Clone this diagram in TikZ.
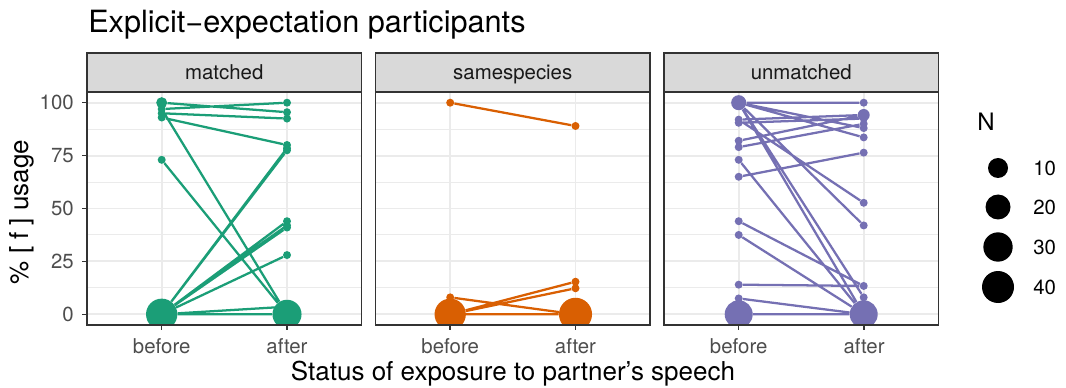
\documentclass[tikz,border=0pt]{standalone}
\usepackage{fontspec}
\setmainfont{TeX Gyre Heros}
\usepackage{tikz}
\definecolor{coulM}{HTML}{1B9E77}
\definecolor{coulS}{HTML}{D95F02}
\definecolor{coulU}{HTML}{7570B3}
\definecolor{grisG}{HTML}{EBEBEB}
\definecolor{grisB}{HTML}{333333}
\definecolor{grisS}{HTML}{D9D9D9}
\definecolor{grisT}{HTML}{4D4D4D}
\tikzset{
  obs/.style={circle, fill, inner sep=0pt, minimum size=#1},
  obs/.default=6pt,
  trait/.style={draw, line width=1.7pt},
  majeur/.style={draw=grisG, line width=1.4pt},
  mineur/.style={draw=grisG, line width=0.7pt},
  cadre/.style={draw=grisB, line width=1.1pt},
  etiq/.style={font=\fontsize{15.3}{18}\selectfont, text=grisT, inner sep=0pt},
  titreaxe/.style={font=\fontsize{19.5}{23}\selectfont, inner sep=0pt},
  declare function={vy(\v)=314.3-2.116*\v;},
}

\begin{document}
\begin{tikzpicture}[x=0.75pt, y=-0.75pt]
  \useasboundingbox (0,0) rectangle (1066,388);
  \foreach \L in {87,375.5,664} {
    \foreach \v in {12.5,37.5,62.5,87.5} \draw[mineur] (\L,{vy(\v)}) -- ++(274.5,0);
    \foreach \v in {0,25,50,75,100} \draw[majeur] (\L,{vy(\v)}) -- ++(274.5,0);
    \draw[majeur] (\L+74.7,92) -- ++(0,233) (\L+200,92) -- ++(0,233);
  }

  \begin{scope}[color=coulM]
    \clip (87,92) rectangle ++(274.5,233);
    \node[obs=8.3pt] (mb100) at (161.7,{vy(100)}) {};
    \node[obs] (mb97) at (161.7,{vy(97)}) {};
    \node[obs] (mb95) at (161.7,{vy(95)}) {};
    \node[obs] (mb93) at (161.7,{vy(93)}) {};
    \node[obs] (mb73) at (161.7,{vy(73)}) {};
    \node[obs=23.5pt] (mb0) at (161.7,{vy(0)}) {};
    \node[obs] (ma100) at (287,{vy(100)}) {};
    \node[obs] (ma96) at (287,{vy(95.5)}) {};
    \node[obs] (ma92) at (287,{vy(92.5)}) {};
    \node[obs] (ma80) at (287,{vy(80)}) {};
    \node[obs] (ma78) at (287,{vy(78.5)}) {};
    \node[obs] (ma77) at (287,{vy(77.5)}) {};
    \node[obs] (ma44) at (287,{vy(44)}) {};
    \node[obs] (ma42) at (287,{vy(42)}) {};
    \node[obs] (ma41) at (287,{vy(41)}) {};
    \node[obs] (ma28) at (287,{vy(28)}) {};
    \node[obs] (ma4) at (287,{vy(3.6)}) {};
    \node[obs=21.8pt] (ma0) at (287,{vy(0)}) {};
    \draw[trait] (mb100) -- (ma96) (mb97) -- (ma100) (mb97) -- (ma0)
      (mb95) -- (ma92) (mb93) -- (ma80) (mb73) -- (ma0)
      (mb0) -- (ma78) (mb0) -- (ma77) (mb0) -- (ma44) (mb0) -- (ma42)
      (mb0) -- (ma41) (mb0) -- (ma28) (mb0) -- (ma4) (mb0) -- (ma0);
  \end{scope}

  \begin{scope}[color=coulS]
    \clip (375.5,92) rectangle ++(274.5,233);
    \node[obs] (sb100) at (450.2,{vy(100)}) {};
    \node[obs] (sb8) at (450.2,{vy(8)}) {};
    \node[obs=23.5pt] (sb0) at (450.2,{vy(0)}) {};
    \node[obs] (sa89) at (575.5,{vy(89)}) {};
    \node[obs] (sa15) at (575.5,{vy(15.4)}) {};
    \node[obs] (sa12) at (575.5,{vy(12.3)}) {};
    \node[obs=24.8pt] (sa0) at (575.5,{vy(0)}) {};
    \draw[trait] (sb100) -- (sa89) (sb8) -- (sa0)
      (sb0) -- (sa15) (sb0) -- (sa12) (sb0) -- (sa0);
  \end{scope}

  \begin{scope}[color=coulU]
    \clip (664,92) rectangle ++(274.5,233);
    \node[obs=11.3pt] (ub100) at (738.7,{vy(100)}) {};
    \node[obs] (ub92) at (738.7,{vy(92)}) {};
    \node[obs] (ub90) at (738.7,{vy(90.5)}) {};
    \node[obs] (ub82) at (738.7,{vy(82)}) {};
    \node[obs] (ub79) at (738.7,{vy(79)}) {};
    \node[obs] (ub73) at (738.7,{vy(73)}) {};
    \node[obs] (ub65) at (738.7,{vy(65)}) {};
    \node[obs] (ub44) at (738.7,{vy(44)}) {};
    \node[obs] (ub37) at (738.7,{vy(37.5)}) {};
    \node[obs] (ub14) at (738.7,{vy(14)}) {};
    \node[obs] (ub8) at (738.7,{vy(7.5)}) {};
    \node[obs=21pt] (ub0) at (738.7,{vy(0)}) {};
    \node[obs] (ua100) at (863.7,{vy(100)}) {};
    \node[obs=9pt] (ua94) at (863.7,{vy(94.2)}) {};
    \node[obs] (ua92) at (863.7,{vy(92.5)}) {};
    \node[obs] (ua90) at (863.7,{vy(90)}) {};
    \node[obs] (ua88) at (863.7,{vy(88)}) {};
    \node[obs] (ua84) at (863.7,{vy(83.6)}) {};
    \node[obs] (ua76) at (863.7,{vy(76.4)}) {};
    \node[obs] (ua53) at (863.7,{vy(52.7)}) {};
    \node[obs] (ua42) at (863.7,{vy(42)}) {};
    \node[obs] (ua13) at (863.7,{vy(13.4)}) {};
    \node[obs] (ua8) at (863.7,{vy(8)}) {};
    \node[obs=21pt] (ua0) at (863.7,{vy(0)}) {};
    \draw[trait] (ub100) -- (ua100) (ub100) -- (ua88) (ub100) -- (ua84)
      (ub100) -- (ua0) (ub100) -- (ua8) (ub100) -- (ua42)
      (ub92) -- (ua94) (ub92) -- (ua53) (ub90) -- (ua92) (ub82) -- (ua94)
      (ub79) -- (ua90) (ub73) -- (ua0) (ub65) -- (ua76) (ub44) -- (ua13)
      (ub37) -- (ua0) (ub14) -- (ua13) (ub8) -- (ua0) (ub0) -- (ua0);
  \end{scope}

  \foreach \L/\nom in {87/matched,375.5/samespecies,664/unmatched} {
    \draw[cadre] (\L,92) rectangle ++(274.5,233);
    \draw[cadre, fill=grisS] (\L,53) rectangle ++(274.5,39);
    \node[etiq, text=black!90, anchor=base] (s\nom) at (\L+137.25,80) {\nom};
    \draw[cadre] (\L+74.7,325) -- ++(0,5) (\L+200,325) -- ++(0,5);
    \node[etiq, anchor=base] (b\nom) at (\L+74.7,353) {before};
    \node[etiq, anchor=base] (a\nom) at (\L+200,353) {after};
  }
  \foreach \v in {0,25,50,75,100} {
    \draw[cadre] (82,{vy(\v)}) -- (87,{vy(\v)});
    \node[etiq, anchor=east] (y\v) at (74,{vy(\v)}) {\v};
  }

  \node[titreaxe, rotate=90] (ytitre) at (22,212) {\% [ f ] usage};
  \node[titreaxe] (xtitre) at (513,374) {Status of exposure to partner’s speech};
  \node[font=\fontsize{23}{27}\selectfont, anchor=base west, inner sep=0pt] (titre) at (88,33)
    {Explicit−expectation participants};

  \node[font=\fontsize{18}{21}\selectfont, inner sep=0pt] (legN) at (986,122) {N};
  \node[obs=15pt, fill=black] (n10) at (998,168) {};
  \node[obs=18.75pt, fill=black] (n20) at (998,207) {};
  \node[obs=22pt, fill=black] (n30) at (998,247) {};
  \node[obs=24pt, fill=black] (n40) at (998,287) {};
  \node[etiq, text=black, anchor=west] (t10) at (1033,168) {10};
  \node[etiq, text=black, anchor=west] (t20) at (1033,207) {20};
  \node[etiq, text=black, anchor=west] (t30) at (1033,247) {30};
  \node[etiq, text=black, anchor=west] (t40) at (1033,287) {40};
\end{tikzpicture}
\end{document}
